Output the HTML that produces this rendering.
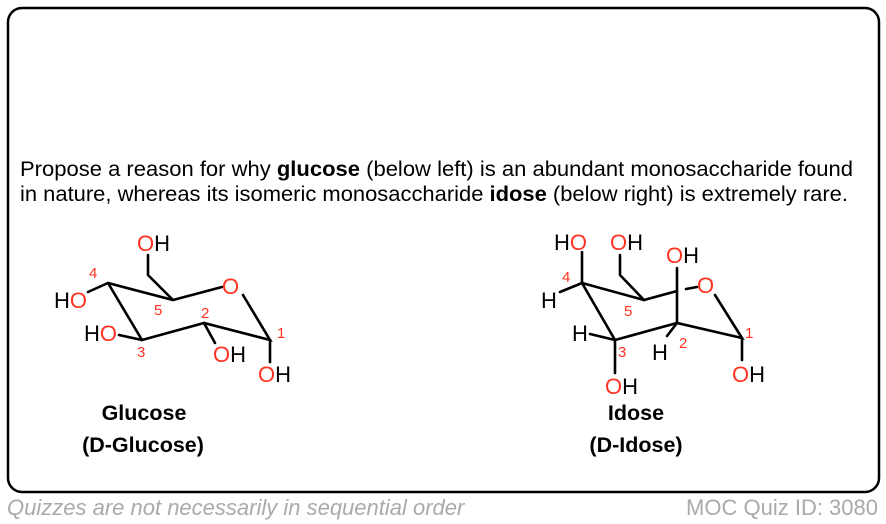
<!DOCTYPE html>
<html><head><meta charset="utf-8"><style>
html,body{margin:0;padding:0;background:#fff;width:886px;height:524px;overflow:hidden}
svg{display:block;font-family:"Liberation Sans",Arial,sans-serif}
</style></head><body>
<svg width="886" height="524" viewBox="0 0 886 524" xmlns="http://www.w3.org/2000/svg">
<rect x="8" y="8" width="871" height="484" rx="14" fill="#fff" stroke="#000" stroke-width="2.5"/>
<text x="20" y="176" font-size="21.5" fill="#000" textLength="833" lengthAdjust="spacingAndGlyphs">Propose a reason for why <tspan font-weight="bold">glucose</tspan> (below left) is an abundant monosaccharide found</text>
<text x="20" y="201" font-size="21.5" fill="#000" textLength="828" lengthAdjust="spacingAndGlyphs">in nature, whereas its isomeric monosaccharide <tspan font-weight="bold">idose</tspan> (below right) is extremely rare.</text>

<g stroke="#000" stroke-width="2.6" fill="none" stroke-linecap="round">
<polyline points="88,292 108,283 173,300 222,287"/>
<polyline points="108,283 142,340 204,323 270,340 243,295"/>
<polyline points="173,300 148,275 148,255"/>
<line x1="142" y1="340" x2="119" y2="335"/>
<line x1="204" y1="323" x2="215" y2="343"/>
<line x1="270" y1="340" x2="270" y2="362"/>
<polyline points="560,292 582,283 644,300 677,291"/>
<line x1="686" y1="289" x2="697" y2="287"/>
<polyline points="582,252 582,283 615,340 677,323 742,338 715,295"/>
<polyline points="644,300 620,275 620,255"/>
<line x1="677" y1="323" x2="677" y2="268"/>
<line x1="677" y1="323" x2="667" y2="336"/>
<line x1="615" y1="340" x2="590" y2="334"/>
<line x1="615" y1="340" x2="615" y2="373"/>
<line x1="742" y1="338" x2="742" y2="360"/>
</g>

<g font-size="22">
<text x="137" y="251" fill="#f32">O<tspan fill="#000">H</tspan></text>
<text x="222" y="294" fill="#f32">O</text>
<text x="54" y="308" fill="#000">H<tspan fill="#f32">O</tspan></text>
<text x="84" y="341" fill="#000">H<tspan fill="#f32">O</tspan></text>
<text x="213" y="362" fill="#f32">O<tspan fill="#000">H</tspan></text>
<text x="258" y="382" fill="#f32">O<tspan fill="#000">H</tspan></text>
<text x="554" y="250" fill="#000">H<tspan fill="#f32">O</tspan></text>
<text x="610" y="250" fill="#f32">O<tspan fill="#000">H</tspan></text>
<text x="666" y="263" fill="#f32">O<tspan fill="#000">H</tspan></text>
<text x="697" y="293" fill="#f32">O</text>
<text x="541" y="308" fill="#000">H</text>
<text x="572" y="341" fill="#000">H</text>
<text x="652" y="360" fill="#000">H</text>
<text x="605" y="394" fill="#f32">O<tspan fill="#000">H</tspan></text>
<text x="732" y="382" fill="#f32">O<tspan fill="#000">H</tspan></text>
</g>
<g font-size="15" fill="#f32">
<text x="89" y="278">4</text>
<text x="154" y="315">5</text>
<text x="201" y="318">2</text>
<text x="277" y="338">1</text>
<text x="137" y="357">3</text>
<text x="562" y="282">4</text>
<text x="624" y="316">5</text>
<text x="618" y="357">3</text>
<text x="679" y="348">2</text>
<text x="745" y="338">1</text>
</g>
<g font-size="21.5" font-weight="bold" fill="#000" text-anchor="middle">
<text x="144" y="420">Glucose</text>
<text x="143" y="452">(D-Glucose)</text>
<text x="636" y="420">Idose</text>
<text x="636" y="452">(D-Idose)</text>
</g>
<text x="7" y="515" font-size="22" font-style="italic" fill="#aaa">Quizzes are not necessarily in sequential order</text>
<text x="878" y="515" font-size="22" fill="#aaa" text-anchor="end">MOC Quiz ID: 3080</text>
</svg>
</body></html>
